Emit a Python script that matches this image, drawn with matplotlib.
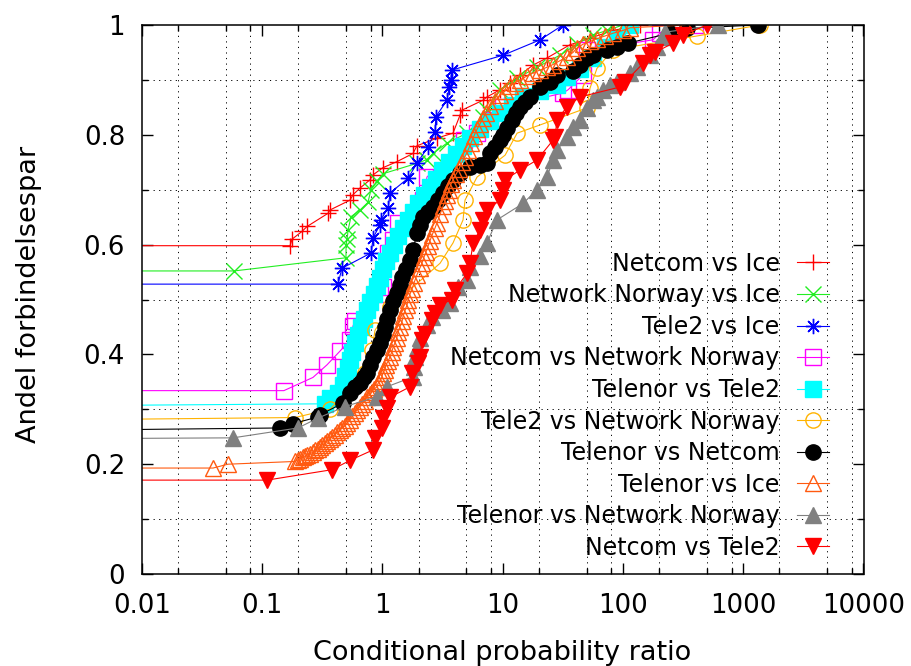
import matplotlib
matplotlib.use('Agg')
import matplotlib.pyplot as plt
from matplotlib.ticker import FixedLocator, FixedFormatter, NullFormatter

plt.rcParams['font.family'] = ['DejaVu Sans']

# ---------------- data ----------------
labels = ["Netcom vs Ice", "Network Norway vs Ice", "Tele2 vs Ice",
          "Netcom vs Network Norway", "Telenor vs Tele2", "Tele2 vs Network Norway",
          "Telenor vs Netcom", "Telenor vs Ice", "Telenor vs Network Norway",
          "Netcom vs Tele2"]

netcom_ice_x = [0.001, 0.171, 0.178, 0.215, 0.237, 0.354, 0.367, 0.539, 0.571, 0.653, 0.790, 0.837,
                1.01, 1.32, 1.80, 1.94, 2.85, 3.87, 4.43, 4.60, 6.87, 7.42, 9.51, 11.5, 14.0, 17.9,
                23.4, 36.3, 53.3, 82.7, 139]
netcom_ice_y = [0.598, 0.598, 0.610, 0.624, 0.633, 0.657, 0.663, 0.681, 0.691, 0.703, 0.718, 0.727,
                0.740, 0.751, 0.766, 0.780, 0.794, 0.803, 0.836, 0.845, 0.863, 0.869, 0.882, 0.894,
                0.909, 0.927, 0.940, 0.964, 0.976, 0.990, 1.000]

nn_ice_x = [0.001, 0.0585, 0.499, 0.50, 0.51, 0.52, 0.55, 0.653, 0.76, 0.805, 0.904, 1.01, 1.94,
            2.35, 2.64, 3.45, 5.06, 6.87, 7.42, 9.51, 13.2, 19.3, 30.0, 41.5, 56.4, 73.8, 100]
nn_ice_y = [0.552, 0.552, 0.576, 0.599, 0.610, 0.627, 0.651, 0.663, 0.677, 0.700, 0.715, 0.729,
            0.748, 0.755, 0.766, 0.785, 0.803, 0.833, 0.845, 0.882, 0.903, 0.923, 0.945, 0.965,
            0.982, 0.990, 1.000]

tele2_ice_x = [0.001, 0.428, 0.462, 0.81, 0.837, 0.957, 0.97, 1.12, 1.16, 1.64, 1.94, 2.40, 2.74,
               2.79, 3.45, 3.60, 3.70, 3.80, 10.1, 20.5, 31.8]
tele2_ice_y = [0.528, 0.528, 0.557, 0.585, 0.612, 0.636, 0.645, 0.667, 0.694, 0.721, 0.748, 0.778,
               0.805, 0.833, 0.863, 0.887, 0.900, 0.918, 0.945, 0.973, 1.000]

netcom_nn_x = [0.001, 0.152, 0.265, 0.347, 0.445, 0.539, 0.571, 0.593, 0.957, 1.01, 1.12, 1.23,
               1.35, 2.18, 2.35, 4.80, 6.10, 7.86, 10.1, 31.8, 35.0, 46.6, 50.3, 178, 203, 400]
netcom_nn_y = [0.334, 0.334, 0.358, 0.381, 0.406, 0.426, 0.452, 0.460, 0.510, 0.523, 0.585, 0.608,
               0.640, 0.681, 0.723, 0.790, 0.803, 0.827, 0.851, 0.876, 0.882, 0.909, 0.954, 0.973,
               0.985, 1.000]

telenor_tele2_x = [0.001, 0.334, 0.367, 0.428, 0.471, 0.490, 0.519, 0.539, 0.560, 0.593, 0.628,
                   0.665, 0.705, 0.746, 0.790, 0.853, 0.904, 0.957, 1.01, 1.07, 1.16, 1.25, 1.35,
                   1.49, 1.64, 1.80, 1.98, 2.22, 2.49, 2.79, 3.13, 3.58, 4.10, 4.69, 5.36, 6.49,
                   7.86, 9.51, 12.0, 14.8, 20.5, 28.3, 34.3, 44.0, 56.4, 71.0, 89.3, 115]
telenor_tele2_y = [0.306, 0.310, 0.320, 0.330, 0.345, 0.360, 0.375, 0.390, 0.405, 0.420, 0.435,
                   0.450, 0.465, 0.480, 0.495, 0.510, 0.525, 0.540, 0.555, 0.570, 0.585, 0.600,
                   0.615, 0.630, 0.645, 0.660, 0.675, 0.690, 0.705, 0.720, 0.735, 0.750, 0.765,
                   0.780, 0.795, 0.810, 0.825, 0.840, 0.855, 0.870, 0.880, 0.890, 0.905, 0.920,
                   0.940, 0.960, 0.975, 1.000]

tele2_nn_x = [0.001, 0.188, 0.367, 0.718, 0.821, 0.870, 1.16, 3.02, 3.87, 4.69, 4.87, 6.13, 10.5,
              13.2, 20.5, 50.3, 53.3, 60.9, 82.7, 413, 1380]
tele2_nn_y = [0.280, 0.285, 0.300, 0.366, 0.408, 0.444, 0.486, 0.566, 0.603, 0.645, 0.681, 0.723,
              0.763, 0.803, 0.818, 0.849, 0.885, 0.921, 0.955, 0.980, 1.000]

telenor_netcom_x = [0.001, 0.141, 0.181, 0.292, 0.303, 0.471, 0.539, 0.593, 0.653, 0.705, 0.746,
                    0.790, 0.837, 0.904, 0.957, 1.01, 1.05, 1.09, 1.16, 1.23, 1.32, 1.40, 1.46,
                    1.57, 1.70, 1.80, 1.94, 2.06, 2.18, 2.40, 2.64, 2.90, 3.20, 3.52, 3.87, 4.43,
                    5.36, 6.49, 7.42, 7.86, 8.65, 9.51, 10.1, 10.9, 12.0, 12.9, 14.0, 15.4, 16.9,
                    20.5, 24.8, 28.3, 38.5, 44.0, 50.3, 56.4, 73.8, 89.3, 110, 246, 341, 1327]
telenor_netcom_y = [0.261, 0.266, 0.274, 0.286, 0.290, 0.311, 0.330, 0.340, 0.348, 0.358, 0.366,
                    0.380, 0.395, 0.408, 0.420, 0.435, 0.450, 0.465, 0.481, 0.497, 0.512, 0.527,
                    0.541, 0.556, 0.572, 0.590, 0.621, 0.635, 0.650, 0.660, 0.668, 0.681, 0.694,
                    0.706, 0.718, 0.730, 0.741, 0.745, 0.748, 0.766, 0.778, 0.790, 0.800, 0.813,
                    0.827, 0.840, 0.851, 0.860, 0.869, 0.887, 0.896, 0.909, 0.916, 0.927, 0.940,
                    0.945, 0.954, 0.960, 0.967, 0.985, 0.994, 1.000]

telenor_ice_x = [0.001, 0.0392, 0.0521, 0.188, 0.199, 0.207, 0.219, 0.228, 0.237, 0.251, 0.265,
                 0.276, 0.292, 0.303, 0.315, 0.334, 0.347, 0.367, 0.382, 0.404, 0.420, 0.445,
                 0.462, 0.490, 0.509, 0.539, 0.560, 0.593, 0.616, 0.653, 0.678, 0.718, 0.746,
                 0.790, 0.821, 0.853, 0.904, 0.921, 0.957, 0.994, 1.01, 1.05, 1.07, 1.12, 1.16,
                 1.20, 1.23, 1.275, 1.32, 1.35, 1.40, 1.46, 1.49, 1.544, 1.605, 1.64, 1.70, 1.77,
                 1.834, 1.94, 2.06, 2.14, 2.22, 2.31, 2.40, 2.49, 2.59, 2.74, 2.85, 3.02, 3.20,
                 3.32, 3.45, 3.58, 3.72, 3.87, 4.10, 4.34, 4.60, 4.87, 5.16, 5.46, 5.78, 6.13,
                 6.49, 6.87, 7.28, 7.86, 8.65, 9.51, 10.5, 11.5, 12.7, 14.0, 15.9, 17.9, 20.5,
                 23.4, 26.2, 30.0, 34.3, 38.5, 41.5, 46.6, 53.3, 60.9, 71.0, 82.7, 100, 115, 328]
telenor_ice_y = [0.193, 0.193, 0.200, 0.205, 0.208, 0.210, 0.213, 0.215, 0.217, 0.219, 0.222,
                 0.225, 0.228, 0.232, 0.235, 0.238, 0.242, 0.246, 0.250, 0.254, 0.258, 0.262,
                 0.266, 0.270, 0.275, 0.281, 0.287, 0.293, 0.299, 0.305, 0.310, 0.316, 0.322,
                 0.327, 0.332, 0.337, 0.341, 0.347, 0.352, 0.359, 0.366, 0.372, 0.380, 0.388,
                 0.396, 0.405, 0.413, 0.421, 0.430, 0.440, 0.450, 0.460, 0.470, 0.480, 0.490,
                 0.500, 0.510, 0.520, 0.530, 0.545, 0.558, 0.567, 0.577, 0.587, 0.597, 0.607,
                 0.617, 0.630, 0.640, 0.655, 0.670, 0.680, 0.690, 0.700, 0.710, 0.718, 0.728,
                 0.738, 0.750, 0.760, 0.772, 0.785, 0.798, 0.810, 0.820, 0.830, 0.840, 0.852,
                 0.862, 0.872, 0.880, 0.888, 0.895, 0.900, 0.907, 0.913, 0.918, 0.923, 0.928,
                 0.935, 0.942, 0.950, 0.958, 0.965, 0.970, 0.975, 0.980, 0.985, 0.990, 0.995,
                 1.000]

telenor_nn_x = [0.001, 0.0574, 0.199, 0.292, 0.490, 0.904, 1.09, 1.80, 1.84, 1.87, 1.94, 2.06,
                2.35, 2.59, 3.13, 3.65, 4.26, 5.06, 5.36, 6.49, 7.42, 8.98, 14.8, 19.3, 23.4,
                26.2, 28.3, 34.3, 38.5, 44.0, 50.3, 56.4, 60.9, 68.3, 78.1, 89.3, 115, 131, 168,
                192, 215, 224, 617]
telenor_nn_y = [0.246, 0.248, 0.266, 0.284, 0.305, 0.323, 0.341, 0.359, 0.377, 0.395, 0.411,
                0.430, 0.454, 0.468, 0.481, 0.493, 0.523, 0.535, 0.559, 0.580, 0.603, 0.645,
                0.675, 0.700, 0.723, 0.754, 0.772, 0.796, 0.814, 0.827, 0.849, 0.863, 0.869,
                0.882, 0.891, 0.896, 0.912, 0.923, 0.945, 0.960, 0.978, 0.987, 1.000]

netcom_tele2_x = [0.001, 0.110, 0.382, 0.539, 0.837, 0.870, 0.994, 1.01, 1.09, 1.16, 1.70, 1.77,
                  1.98, 2.06, 2.14, 2.26, 2.59, 2.74, 3.02, 3.80, 4.02, 5.06, 5.36, 5.68, 6.49,
                  6.87, 7.42, 9.51, 10.1, 10.5, 14.0, 19.3, 26.2, 27.3, 28.3, 34.3, 44.0, 94.6,
                  104, 147, 168, 185, 261, 316, 500]
netcom_tele2_y = [0.171, 0.171, 0.190, 0.207, 0.226, 0.248, 0.266, 0.284, 0.302, 0.322, 0.341,
                  0.366, 0.384, 0.395, 0.426, 0.438, 0.463, 0.475, 0.490, 0.500, 0.517, 0.548,
                  0.566, 0.603, 0.627, 0.645, 0.663, 0.681, 0.700, 0.718, 0.736, 0.754, 0.790,
                  0.796, 0.827, 0.851, 0.869, 0.887, 0.896, 0.930, 0.945, 0.950, 0.967, 0.982,
                  1.000]

xticks = [0.01, 0.1, 1, 10, 100, 1000, 10000]
xtick_labels = ["0.01", "0.1", "1", "10", "100", "1000", "10000"]
yticks = [0, 0.2, 0.4, 0.6, 0.8, 1]
ytick_labels = ["0", "0.2", "0.4", "0.6", "0.8", "1"]

# ---------------- styles ----------------
series = [
    (netcom_ice_x, netcom_ice_y, dict(color='#ff0000', marker='+', mfc='#ff0000')),
    (nn_ice_x, nn_ice_y, dict(color='#22ee22', marker='x', mfc='#22ee22')),
    (tele2_ice_x, tele2_ice_y, dict(color='#0000ff', marker=(8, 2, 0), mfc='#0000ff')),
    (netcom_nn_x, netcom_nn_y, dict(color='#ff00ff', marker='s', mfc='none')),
    (telenor_tele2_x, telenor_tele2_y, dict(color='#00ffff', marker='s', mfc='#00ffff')),
    (tele2_nn_x, tele2_nn_y, dict(color='#ffb300', marker='o', mfc='none')),
    (telenor_netcom_x, telenor_netcom_y, dict(color='#000000', marker='o', mfc='#000000')),
    (telenor_ice_x, telenor_ice_y, dict(color='#ff5a10', marker='^', mfc='none')),
    (telenor_nn_x, telenor_nn_y, dict(color='#808080', marker='^', mfc='#808080')),
    (netcom_tele2_x, netcom_tele2_y, dict(color='#ff0000', marker='v', mfc='#ff0000')),
]

fig = plt.figure(figsize=(9.12, 6.66), dpi=100)
ax = fig.add_axes([141.7 / 912, 1 - 574 / 666, (863.5 - 141.7) / 912, 549 / 666])

handles = []
for (xs, ys, st), lab in zip(series, labels):
    h, = ax.plot(xs, ys, color=st['color'], lw=0.8, marker=st['marker'],
                 markersize=11, markerfacecolor=st['mfc'], markeredgecolor=st['color'],
                 markeredgewidth=1.0, label=lab)
    handles.append(h)

ax.set_xscale('log')
ax.set_xlim(0.01, 10000)
ax.set_ylim(0, 1)

ax.xaxis.set_major_locator(FixedLocator(xticks))
ax.xaxis.set_major_formatter(FixedFormatter(xtick_labels))
minor_x = [m * d for d in [0.01, 0.1, 1, 10, 100, 1000] for m in (2, 5, 8)]
ax.xaxis.set_minor_locator(FixedLocator(minor_x))
ax.xaxis.set_minor_formatter(NullFormatter())
ax.yaxis.set_major_locator(FixedLocator(yticks))
ax.yaxis.set_major_formatter(FixedFormatter(ytick_labels))
ax.yaxis.set_minor_locator(FixedLocator([0.1, 0.3, 0.5, 0.7, 0.9]))

ax.grid(True, which='minor', color='black', lw=0.7, linestyle=(0, (1.2, 4.5)))
ax.grid(False, which='major')

ax.tick_params(which='both', direction='in', top=True, right=True, width=1.0)
ax.tick_params(which='major', length=8, labelsize=18.7)
ax.tick_params(axis='x', which='major', pad=14)
ax.tick_params(axis='y', which='major', pad=12)
ax.tick_params(which='minor', length=4.5)
for s in ax.spines.values():
    s.set_linewidth(1.1)

ax.set_xlabel("Conditional probability ratio", fontsize=19.5)
ax.set_ylabel("Andel forbindelsespar", fontsize=19.5)
ax.xaxis.set_label_coords(0.5, -0.121)
ax.yaxis.set_label_coords(-0.138, 0.51)

leg = ax.legend(handles=handles, loc='lower right', bbox_to_anchor=(0.952, 0.026),
                frameon=False, markerfirst=False, fontsize=17, handlelength=1.36,
                handletextpad=0.72, labelspacing=0.32, borderpad=0, borderaxespad=0)

fig.savefig('out.png', dpi=100)
